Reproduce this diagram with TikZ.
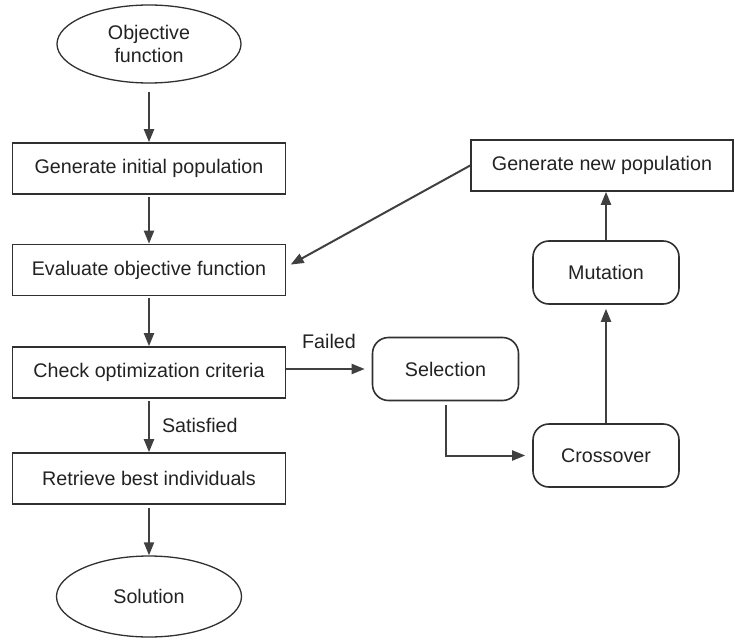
\documentclass[tikz,border=0pt]{standalone}
\usepackage{fontspec}
\setmainfont{Liberation Sans}
\usetikzlibrary{arrows.meta,positioning,shapes.geometric,calc}
\definecolor{linec}{HTML}{404040}
\definecolor{boxc}{HTML}{303030}
\definecolor{textc}{HTML}{222222}
\begin{document}
\begin{tikzpicture}[x=1pt,y=-1pt,
  every node/.style={font=\fontsize{19.7}{23.5}\selectfont, text=textc, align=center, inner sep=0pt},
  rectbox/.style={draw=boxc, line width=1.6pt, rectangle, minimum width=273pt, minimum height=51pt},
  roundbox/.style={draw=boxc, line width=1.6pt, rectangle, rounded corners=16pt, minimum width=146pt, minimum height=63pt},
  ellbox/.style={draw=boxc, line width=1.3pt, ellipse, minimum width=184pt, minimum height=78pt},
  arr/.style={draw=linec, line width=2pt, -{Triangle[length=13pt,width=10pt]}},
  lbl/.style={font=\fontsize{19.7}{23.5}\selectfont}
]
\useasboundingbox (0,0) rectangle (735,639);
% left column
\node[ellbox] (obj) at (149,44) {Objective\\function};
\node[rectbox] (init) at (149,168.5) {Generate initial population};
\node[rectbox] (eval) at (149,270) {Evaluate objective function};
\node[rectbox] (check) at (149,372.5) {Check optimization criteria};
\node[rectbox] (retr) at (149,478.5) {Retrieve best individuals};
\node[ellbox, minimum width=185pt, minimum height=81pt] (sol) at (149,596.5) {Solution};
% right side
\node[rectbox, minimum width=262pt] (gennew) at (602,165.5) {Generate new population};
\node[roundbox] (mut) at (606,272.5) {Mutation};
\node[roundbox] (sel) at (445.5,369) {Selection};
\node[roundbox] (cross) at (606,455.5) {Crossover};
% connectors
\draw[arr, shorten <=8pt] (obj) -- (init);
\draw[arr, shorten <=2pt] (init) -- (eval);
\draw[arr, shorten <=2pt] (eval) -- (check);
\draw[arr, shorten <=2pt] (check) -- node[lbl, right=12pt, pos=0.5] (satl) {Satisfied} (retr);
\draw[arr, shorten <=3pt] (retr) -- (sol);
\draw[arr, shorten >=7pt] (check.east |- sel.west) -- node[lbl, above=19pt, pos=0.5] (faill) {Failed} (sel.west);
\draw[arr, shorten >=7pt] ([yshift=-4pt]sel.south) |- (cross.west);
\draw[arr, shorten >=4pt] (cross.north) -- (mut.south);
\draw[arr] (mut.north) -- (mut.north |- gennew.south);
\draw[arr, shorten >=5pt] (gennew.west) -- ([yshift=3pt]eval.east);
\end{tikzpicture}
\end{document}
